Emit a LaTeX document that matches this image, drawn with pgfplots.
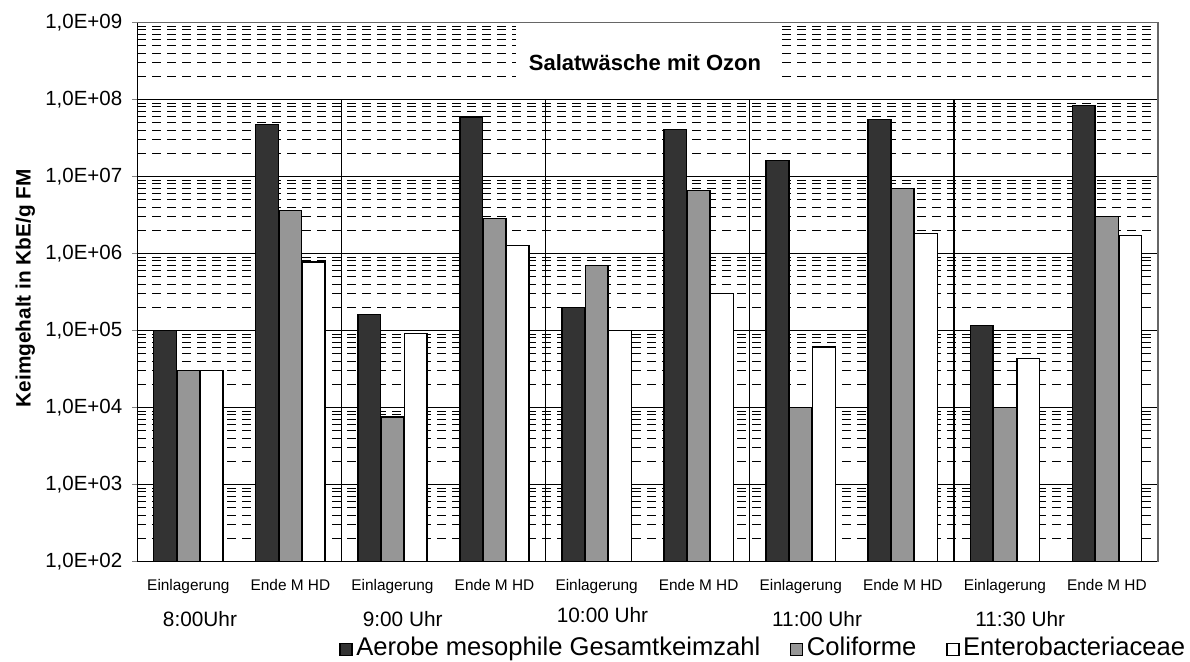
\documentclass[border=0pt]{standalone}
\usepackage{fontspec}
\setmainfont{Liberation Sans}
\usepackage{pgfplots}
\pgfplotsset{compat=1.18}

\definecolor{dunkel}{HTML}{333333}
\definecolor{mittel}{HTML}{969696}

\begin{document}
\begin{tikzpicture}
\begin{axis}[
    width=510.35pt, height=269.5pt, scale only axis,
    ymode=log, ymin=100, ymax=1e9,
    log origin y=infty,
    xmin=-0.5, xmax=9.5,
    clip=false,
    ybar=0.3pt, bar width=11.35pt,
    axis x line*=bottom, axis y line*=left,
    axis line style={black, line width=0.6pt},
    xtick={0,...,9},
    xticklabels={Einlagerung,Ende M HD,Einlagerung,Ende M HD,Einlagerung,Ende M HD,Einlagerung,Ende M HD,Einlagerung,Ende M HD},
    x tick style={draw=none},
    xticklabel style={font=\fontsize{7.7}{9}\selectfont, anchor=base, yshift=-12pt},
    ytick={1e2,1e3,1e4,1e5,1e6,1e7,1e8,1e9},
    yticklabels={{1,0E+02},{1,0E+03},{1,0E+04},{1,0E+05},{1,0E+06},{1,0E+07},{1,0E+08},{1,0E+09}},
    yticklabel style={font=\fontsize{10.25}{12}\selectfont, xshift=-1.5pt},
    tick align=outside, major tick length=2.5pt, minor tick length=0pt,
    ymajorgrids, yminorgrids,
    major grid style={black, line width=0.5pt},
    minor grid style={black, line width=0.5pt, dash pattern=on 4.2pt off 3.3pt},
    ylabel={Keimgehalt in KbE/g FM},
    every axis y label/.style={at={(axis description cs:-0.1097,0.507)}, rotate=90, anchor=center,
        font=\bfseries\fontsize{10.4}{12}\selectfont},
    legend columns=3,
    legend image code/.code={\draw[#1] (0pt,0pt) rectangle (6pt,6pt);},
    legend style={draw=none, fill=none, at={(axis description cs:0.613,-0.160)}, anchor=center,
        font=\fontsize{12.8}{15}\selectfont, nodes={inner sep=0.8pt, anchor=base west},
        /tikz/every odd column/.append style={column sep=1pt},
        /tikz/every even column/.append style={column sep=14pt}},
]
\addplot[fill=dunkel, draw=black, line width=0.7pt] coordinates {
    (0,1.0e5) (1,4.7e7) (2,1.6e5) (3,5.9e7) (4,2.0e5)
    (5,4.1e7) (6,1.6e7) (7,5.5e7) (8,1.17e5) (9,8.4e7)};
\addlegendentry{Aerobe mesophile Gesamtkeimzahl}
\addplot[fill=mittel, draw=black, line width=0.7pt] coordinates {
    (0,3.0e4) (1,3.6e6) (2,7.5e3) (3,2.86e6) (4,7.0e5)
    (5,6.6e6) (6,1.0e4) (7,7.0e6) (8,1.0e4) (9,3.05e6)};
\addlegendentry{Coliforme}
\addplot[fill=white, draw=black, line width=0.7pt] coordinates {
    (0,3.0e4) (1,7.8e5) (2,9.2e4) (3,1.27e6) (4,1.0e5)
    (5,3.0e5) (6,6.1e4) (7,1.82e6) (8,4.3e4) (9,1.71e6)};
\addlegendentry{Enterobacteriaceae}

% Trennlinien zwischen den Uhrzeiten
\draw[black, line width=0.7pt] (axis cs:1.5,100) -- (axis cs:1.5,1e8);
\draw[black, line width=0.7pt] (axis cs:3.5,100) -- (axis cs:3.5,1e8);
\draw[black, line width=0.7pt] (axis cs:5.5,100) -- (axis cs:5.5,1e8);
\draw[black, line width=0.7pt] (axis cs:7.5,100) -- (axis cs:7.5,1e8);
% Rahmen oben und rechts
\draw[black!60, line width=0.6pt] (rel axis cs:0,1) -- (rel axis cs:1,1) -- (rel axis cs:1,0);

% Titel im Diagramm
\fill[white] (axis cs:3.21,9.5e8) rectangle (axis cs:5.815,1.4e8);
\node[font=\bfseries\fontsize{11}{13}\selectfont] at (axis cs:4.474,3.02e8) {Salatwäsche mit Ozon};

% Uhrzeiten
\node[anchor=base, yshift=-32.5pt, font=\fontsize{10.4}{12}\selectfont] at (axis cs:0.114,100) {8:00Uhr};
\node[anchor=base, yshift=-32.5pt, font=\fontsize{10.4}{12}\selectfont] at (axis cs:2.10,100) {9:00 Uhr};
\node[anchor=base, yshift=-30.5pt, font=\fontsize{10.4}{12}\selectfont] at (axis cs:4.058,100) {10:00 Uhr};
\node[anchor=base, yshift=-32.5pt, font=\fontsize{10.4}{12}\selectfont] at (axis cs:6.16,100) {11:00 Uhr};
\node[anchor=base, yshift=-32.5pt, font=\fontsize{10.4}{12}\selectfont] at (axis cs:8.15,100) {11:30 Uhr};

\coordinate (O) at (rel axis cs:0,0);
\end{axis}
\pgfresetboundingbox
\path (O) ++(-68.65pt,-49.75pt) rectangle ++(595pt,330.5pt);
\end{tikzpicture}
\end{document}
